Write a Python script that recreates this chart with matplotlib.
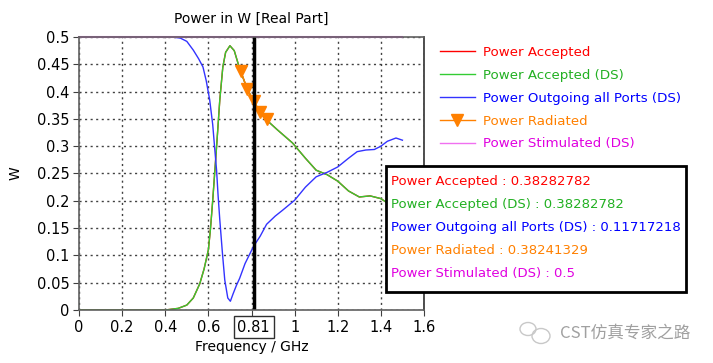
import numpy as np
import matplotlib.pyplot as plt
from matplotlib.lines import Line2D
from matplotlib.patches import Rectangle, Ellipse

# DATA
freq_green = [0, 0.40, 0.42, 0.46, 0.50, 0.53, 0.56, 0.58, 0.60, 0.61, 0.62, 0.63, 0.64,
              0.653, 0.667, 0.68, 0.70, 0.72, 0.745, 0.78, 0.81, 0.84, 0.87, 0.92, 0.99,
              1.05, 1.10, 1.15, 1.20, 1.25, 1.30, 1.35, 1.40, 1.43, 1.46, 1.50]
p_accepted = [0, 0, 0.001, 0.003, 0.009, 0.022, 0.048, 0.075, 0.11, 0.15, 0.20, 0.255, 0.31,
              0.385, 0.445, 0.472, 0.484, 0.475, 0.442, 0.405, 0.3828, 0.362, 0.348, 0.330, 0.306,
              0.278, 0.256, 0.248, 0.236, 0.218, 0.207, 0.209, 0.204, 0.196, 0.190, 0.185]

freq_blue = [0, 0.43, 0.47, 0.50, 0.53, 0.555, 0.575, 0.59, 0.606, 0.62, 0.63, 0.638, 0.645,
             0.653, 0.665, 0.676, 0.69, 0.702, 0.715, 0.73, 0.745, 0.77, 0.81, 0.84, 0.87,
             0.91, 0.945, 1.0, 1.05, 1.10, 1.15, 1.20, 1.25, 1.29, 1.33, 1.37, 1.40, 1.43,
             1.47, 1.50]
p_outgoing = [0.5, 0.5, 0.498, 0.492, 0.476, 0.46, 0.445, 0.42, 0.385, 0.34, 0.293, 0.256, 0.21,
              0.165, 0.105, 0.055, 0.022, 0.016, 0.03, 0.045, 0.058, 0.085, 0.117, 0.135, 0.157,
              0.172, 0.183, 0.201, 0.225, 0.244, 0.252, 0.262, 0.278, 0.290, 0.293, 0.294, 0.300,
              0.309, 0.315, 0.311]

freq_rad = [0.75, 0.78, 0.81, 0.84, 0.87]
p_radiated = [0.438, 0.405, 0.3824, 0.362, 0.350]

freq_stim = [0, 1.5]
p_stimulated = [0.5, 0.5]

marker_f = 0.81
info_lines = ["Power Accepted : 0.38282782",
              "Power Accepted (DS) : 0.38282782",
              "Power Outgoing all Ports (DS) : 0.11717218",
              "Power Radiated : 0.38241329",
              "Power Stimulated (DS) : 0.5"]
legend_labels = ["Power Accepted", "Power Accepted (DS)", "Power Outgoing all Ports (DS)",
                 "Power Radiated", "Power Stimulated (DS)"]

line_colors = ["#ff0000", "#33cc33", "#3333ff", "#ff8000", "#f070f0"]
text_colors = ["#ff0000", "#22b022", "#0000ff", "#ff8000", "#e000e0"]

plt.rcParams['font.family'] = ['DejaVu Sans']
plt.rcParams['font.size'] = 10

fig = plt.figure(figsize=(7.13, 3.63), dpi=100)
ax = fig.add_axes([79/713, 53/363, 345/713, 273/363])

ax.plot(freq_green, p_accepted, color=line_colors[0], lw=1)
ax.plot(freq_green, p_accepted, color=line_colors[1], lw=1)
ax.plot(freq_blue, p_outgoing, color=line_colors[2], lw=1)
ax.plot(freq_rad, p_radiated, color=line_colors[3], lw=1, marker="v", markersize=9)
ax.plot(freq_stim, p_stimulated, color=line_colors[4], lw=1.5, clip_on=False)
ax.axvline(marker_f, color="black", lw=2.5)

ax.set_xlim(0, 1.6)
ax.set_ylim(0, 0.5)
xt = [0, 0.2, 0.4, 0.6, 0.8, 1.0, 1.2, 1.4, 1.6]
ax.set_xticks(xt)
ax.set_xticklabels(["0", "0.2", "0.4", "0.6", "", "1", "1.2", "1.4", "1.6"])
yt = np.arange(0, 0.51, 0.05)
ax.set_yticks(yt)
ax.set_yticklabels(["0", "0.05", "0.1", "0.15", "0.2", "0.25", "0.3", "0.35", "0.4", "0.45", "0.5"])
ax.grid(True, color="#404040", ls=(0, (1.5, 2.5)), lw=1)
ax.tick_params(length=4, color="#404040", pad=3, labelsize=10.5)
for s in ax.spines.values():
    s.set_color("#606060")
    s.set_linewidth(1.2)
ax.spines["right"].set_color("#303030")

ax.text(marker_f, -0.035, "0.81", transform=ax.get_xaxis_transform(), ha="center", va="top",
        fontsize=10.5, bbox=dict(boxstyle="square,pad=0.25", fc="white", ec="#303030", lw=1))

ax.set_title("Power in W [Real Part]", fontsize=10, pad=10)
ax.set_xlabel("Frequency / GHz", fontsize=10, labelpad=4)
ax.set_ylabel("W", fontsize=10, labelpad=10)

# legend
handles = [Line2D([], [], color=c, lw=1) for c in line_colors]
handles[3] = Line2D([], [], color=line_colors[3], lw=1, marker="v", markersize=9)
leg = fig.legend(handles, legend_labels, loc="upper left", bbox_to_anchor=(428/713, 1 - 34/363),
                 frameon=False, handlelength=2.6, handletextpad=0.6, labelspacing=0.74,
                 fontsize=9.6, labelcolor=text_colors)

# info box
fig.add_artist(Rectangle((386/713, 1 - 292/363), 300/713, 126/363, transform=fig.transFigure,
                         fc="white", ec="black", lw=2))
for i, t in enumerate(info_lines):
    fig.text(391/713, 1 - (182 + i*22.8)/363, t, color=text_colors[i], fontsize=9.5, va="center")

# watermark
for cx, cy, w in [(528, 329, 16), (541, 336, 18)]:
    fig.add_artist(Ellipse((cx/713, 1 - cy/363), w/713, (w - 3)/363, transform=fig.transFigure,
                           fc="none", ec="#c8c8c8", lw=1))
fig.text(690/713, 1 - 333/363, "CST仿真专家之路", color="#a0a0a0", fontsize=12, ha="right", va="center",
         family=["Noto Sans CJK SC", "DejaVu Sans"])

fig.savefig("out.png", dpi=100)
